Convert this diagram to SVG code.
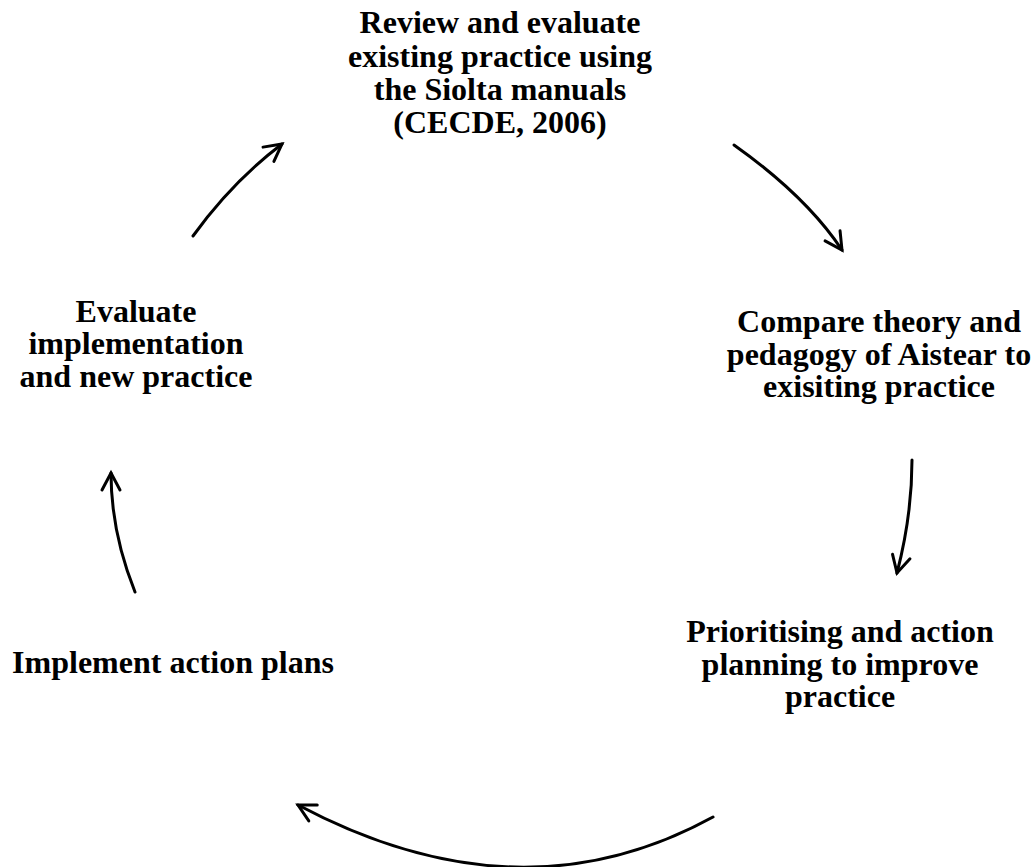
<svg xmlns="http://www.w3.org/2000/svg" width="1032" height="867" viewBox="0 0 1032 867">
<style>
text{font-family:"Liberation Serif","Times New Roman",serif;font-weight:bold;font-size:32px;fill:#000;text-anchor:middle}
.c{fill:none;stroke:#000;stroke-width:3;stroke-linecap:round}
</style>
<defs>
<marker id="ah" markerUnits="userSpaceOnUse" markerWidth="30" markerHeight="30" refX="0" refY="0" viewBox="-20 -15 30 30" orient="auto" overflow="visible">
<path d="M-17,-9 L0,0 L-17,9" fill="none" stroke="#000" stroke-width="3" stroke-linecap="round" stroke-linejoin="miter"/>
</marker>
</defs>
<rect width="1032" height="867" fill="#fff"/>
<g id="n1"><text x="500" y="33">Review and evaluate</text><text x="500" y="67">existing practice using</text><text x="500" y="100">the Siolta manuals</text><text x="500" y="133">(CECDE, 2006)</text></g>
<g id="n2"><text x="879" y="332">Compare theory and</text><text x="879" y="365">pedagogy of Aistear to</text><text x="879" y="397">exisiting practice</text></g>
<g id="n3"><text x="840" y="642">Prioritising and action</text><text x="840" y="675">planning to improve</text><text x="840" y="707">practice</text></g>
<g id="n4"><text x="173" y="673">Implement action plans</text></g>
<g id="n5"><text x="136" y="322">Evaluate</text><text x="136" y="354">implementation</text><text x="136" y="387">and new practice</text></g>
<g id="connectors">
<path class="c" d="M193,236 Q232,182 282,144" marker-end="url(#ah)"/>
<path class="c" d="M734,145 Q806,196 842,250" marker-end="url(#ah)"/>
<path class="c" d="M912,460 Q912,515 897,573" marker-end="url(#ah)"/>
<path class="c" d="M135,592 Q111,532 111,473" marker-end="url(#ah)"/>
<path class="c" d="M713,817 Q520,923 298,805" marker-end="url(#ah)"/>
</g>
</svg>
